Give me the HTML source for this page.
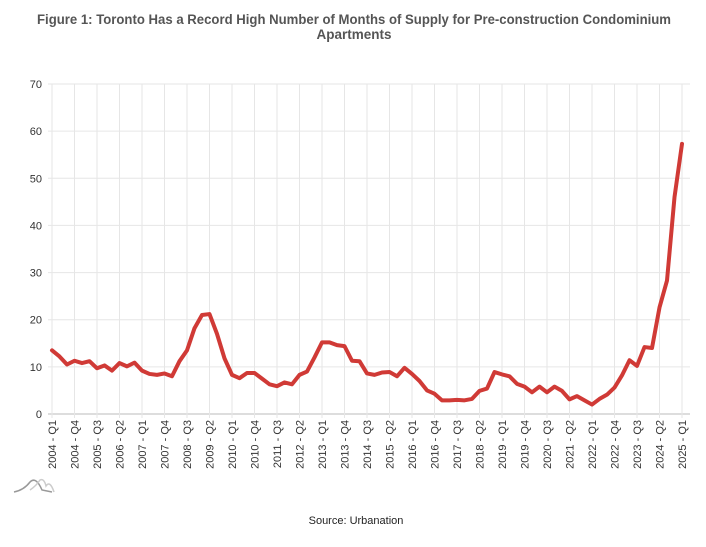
<!DOCTYPE html>
<html><head><meta charset="utf-8"><style>
body{margin:0;background:#fff;font-family:"Liberation Sans",sans-serif;}
</style></head><body>
<svg id="chart" width="706" height="542" xmlns="http://www.w3.org/2000/svg" font-family="Liberation Sans, sans-serif">
<text x="354" y="24" text-anchor="middle" font-size="13.5" font-weight="bold" fill="#555" textLength="634" lengthAdjust="spacingAndGlyphs">Figure 1: Toronto Has a Record High Number of Months of Supply for Pre-construction Condominium</text>
<text x="354" y="39" text-anchor="middle" font-size="13.5" font-weight="bold" fill="#555">Apartments</text>
<g id="grid"></g><g id="axes"></g><g id="series"></g>
<g fill="none" stroke-width="1.5">
<path d="M14 492 Q24 490 30 482 Q36 476 42 490 L52 492" stroke="#999"/>
<path d="M30 490 Q36 486 40 480 Q44 478 46 486 Q50 480 54 492" stroke="#ccc"/>
</g>
<text x="356" y="524" text-anchor="middle" font-size="11" fill="#222">Source: Urbanation</text>
</svg>
<script>
const values=[13.5,12.2,10.5,11.3,10.8,11.2,9.7,10.3,9.2,10.8,10.1,10.9,9.2,8.5,8.3,8.6,8.0,11.2,13.5,18.2,21.0,21.2,17.0,11.8,8.3,7.6,8.7,8.7,7.5,6.3,5.9,6.7,6.3,8.3,9.0,12.0,15.2,15.2,14.6,14.4,11.3,11.2,8.6,8.3,8.8,8.9,8.0,9.8,8.5,7.0,5.0,4.3,2.9,2.9,3.0,2.9,3.2,4.9,5.4,8.9,8.4,8.0,6.4,5.8,4.6,5.8,4.6,5.8,4.9,3.1,3.8,2.9,2.0,3.2,4.1,5.6,8.2,11.4,10.2,14.2,14.0,22.6,28.3,46.0,57.3];
const startYear=2004;
const yTicks=[0,10,20,30,40,50,60,70];
const NS="http://www.w3.org/2000/svg";
const x0=52,x1=682,y0=414,y1=84,yMax=70;
const n=values.length;
const categories=values.map((v,i)=>(startYear+Math.floor(i/4))+" - Q"+(i%4+1));
const X=i=>x0+(x1-x0)*i/(n-1);
const Y=v=>y0-(y0-y1)*v/yMax;
function mk(tag,attrs,parent){const e=document.createElementNS(NS,tag);for(const k in attrs)e.setAttribute(k,attrs[k]);parent.appendChild(e);return e;}
const grid=document.getElementById('grid'),axes=document.getElementById('axes'),series=document.getElementById('series');
yTicks.forEach(t=>{
 const l=mk('line',{x1:x0-4,x2:x1+8,y1:Y(t),y2:Y(t),stroke:t===0?'#bbb':'#e6e6e6','stroke-width':1},grid);
 
 
 const tx=mk('text',{x:42,y:Y(t)+4,'text-anchor':'end','font-size':11,fill:'#333'},axes);
 tx.textContent=t;
 
 
});
for(let i=0;i<n;i+=3){
 const l=mk('line',{x1:X(i),x2:X(i),y1:y1,y2:y0+4,stroke:'#e6e6e6','stroke-width':1},grid);
 
 
 const tx=mk('text',{transform:`translate(${X(i)+4},420) rotate(-90)`,'text-anchor':'end','font-size':11,fill:'#333'},axes);
 tx.textContent=categories[i];
 
 
}
const p=mk('polyline',{points:values.map((v,i)=>X(i)+','+Y(v)).join(' '),fill:'none',stroke:'#d03a36','stroke-width':4,'stroke-linejoin':'round','stroke-linecap':'round'},series);


</script>
</body></html>
